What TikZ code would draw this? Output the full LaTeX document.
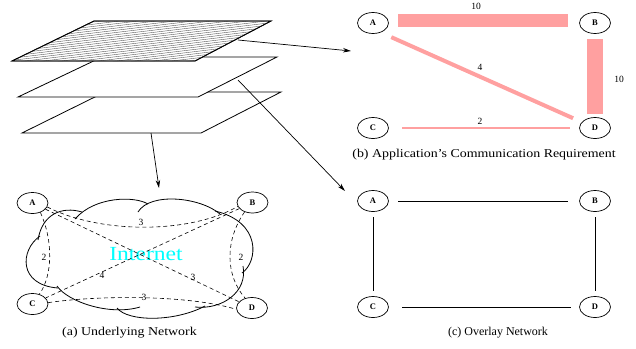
\documentclass[tikz,border=0pt]{standalone}
\usepackage{fontspec}
\setmainfont{Liberation Serif}
\usetikzlibrary{shapes.geometric,arrows.meta}
\definecolor{req}{RGB}{255,160,160}
\definecolor{inetc}{RGB}{0,255,255}
\tikzset{
 host/.style={ellipse,draw,line width=0.7pt,minimum width=31pt,minimum height=21pt,inner sep=0pt,font=\fontsize{8.5}{8.5}\selectfont\bfseries},
 plane/.style={draw,line width=0.8pt,fill=white},
 layerarrow/.style={line width=0.7pt,-{Stealth[length=8pt,width=4.5pt]}},
 wlabel/.style={font=\fontsize{9.5}{9.5}\selectfont, inner sep=0pt},
 capt/.style={font=\fontsize{12}{12}\selectfont, inner sep=0pt},
 virt/.style={dash pattern=on 4pt off 3pt, line width=0.6pt},
 ovl/.style={line width=0.7pt},
 cloudline/.style={line width=0.8pt},
}
\begin{document}
\begin{tikzpicture}[x=1pt,y=-1pt]
\useasboundingbox (0,0) rectangle (636,348);
% ---- stacked layers
\draw[plane] (22,133) -- (105,92) -- (281,92) -- (201,133) -- cycle;
\draw[plane] (18,97) -- (102,57) -- (277,57) -- (198,97) -- cycle;
\draw[plane] (12,61) -- (94,21) -- (271,21) -- (195,61) -- cycle;
\begin{scope}
\clip (12,61) -- (94,21) -- (271,21) -- (195,61) -- cycle;
\foreach \i in {0,...,36} { \draw[black!65, line width=0.4pt] (0,{20+2.2*\i}) -- (300,{20+2.2*\i-36}); }
\end{scope}
\draw[line width=0.8pt] (12,61) -- (94,21) -- (271,21) -- (195,61) -- cycle;
\coordinate (ltop) at (238,40);
\coordinate (lmid) at (238,80);
\coordinate (lbot) at (151,133);
\coordinate (tb) at (351,51);
\coordinate (tc) at (345,191);
\coordinate (ta) at (159,188);
\draw[layerarrow] (ltop) -- (tb);
\draw[layerarrow] (lmid) -- (tc);
\draw[layerarrow] (lbot) -- (ta);
% ---- (b) requirement
\node[host] (bA) at (373,23) {A};
\node[host] (bB) at (595,23) {B};
\node[host] (bC) at (373,128) {C};
\node[host] (bD) at (595,128) {D};
\draw[req, line width=13pt, shorten <=9.5pt, shorten >=11.5pt, transform canvas={yshift=3pt}] (bA) -- (bB);
\draw[req, line width=16pt, shorten <=5.5pt, shorten >=3.5pt] (bB) -- (bD);
\draw[req, line width=4pt, shorten <=20pt, shorten >=24pt] ([yshift=-6pt]bA.center) -- (bD.center);
\draw[req, line width=2pt, shorten <=29pt, shorten >=25pt] (bC.center) -- (bD.center);
\node[wlabel] (l10a) at (476,6) {10};
\node[wlabel] (l10b) at (619,79) {10};
\node[wlabel] (l4b) at (480,67) {4};
\node[wlabel] (l2b) at (480,121) {2};
\node[capt] (capb) at (484,155) {\scalebox{1.16}[1]{(b) Application's Communication Requirement}};
% ---- (c) overlay
\node[host] (cA) at (373,201) {A};
\node[host] (cB) at (595,201) {B};
\node[host] (cC) at (373,307) {C};
\node[host] (cD) at (595,307) {D};
\draw[ovl, shorten <=25pt, shorten >=27pt] (cA.center) -- (cB.center);
\draw[ovl, shorten <=16pt, shorten >=16pt] (cA.center) -- (cC.center);
\draw[ovl, shorten <=16pt, shorten >=16pt] (cB.center) -- (cD.center);
\draw[ovl, shorten <=29pt, shorten >=24pt] (cC.center) -- (cD.center);
\node[capt] (capc) at (498,333) {(c) Overlay Network};
% ---- (a) underlying
\draw[cloudline] (40,236) .. controls (20,250) and (18,285) .. (58,288);
\draw[cloudline] (57,286) .. controls (68,302) and (110,316) .. (140,307);
\draw[cloudline] (117,308) .. controls (128,322) and (175,322) .. (205,306);
\draw[cloudline] (195,307) .. controls (222,310) and (248,292) .. (243,266);
\draw[cloudline] (242,273) .. controls (258,262) and (262,222) .. (215,211);
\draw[cloudline] (220,214) .. controls (200,197) and (150,192) .. (138,212);
\draw[cloudline] (148,204) .. controls (135,196) and (95,196) .. (75,219);
\draw[cloudline] (82,212) .. controls (62,206) and (42,214) .. (38,240);
\node[font=\fontsize{20}{20}\selectfont, text=inetc, inner sep=0pt] (inet) at (146,254) {\scalebox{1.18}[1]{Internet}};
\node[host] (aA) at (32.5,203) {A};
\node[host] (aB) at (252.5,202.5) {B};
\node[host] (aC) at (32.5,304) {C};
\node[host] (aD) at (252,308) {D};
\draw[virt] (aA.-15) .. controls (100,234) and (190,234) .. (aB.-165);
\draw[virt] (aA.-50) .. controls (53,240) and (53,275) .. (aC.55);
\draw[virt] (aB.-130) .. controls (225,240) and (225,275) .. (aD.125);
\draw[virt] (aA) -- (aD);
\draw[virt] (aB) -- (aC);
\draw[virt] (aC.5) .. controls (100,295) and (190,295) .. (aD.185);
\node[wlabel] (l3ab) at (141,222) {3};
\node[wlabel] (l2ac) at (44,257) {2};
\node[wlabel] (l2bd) at (241,257) {2};
\node[wlabel] (l3ad) at (193,277) {3};
\node[wlabel] (l4bc) at (102,275) {4};
\node[wlabel] (l3cd) at (144,297) {3};
\node[capt] (capa) at (129.5,333) {\scalebox{1.16}[1]{(a) Underlying Network}};
\end{tikzpicture}
\end{document}
